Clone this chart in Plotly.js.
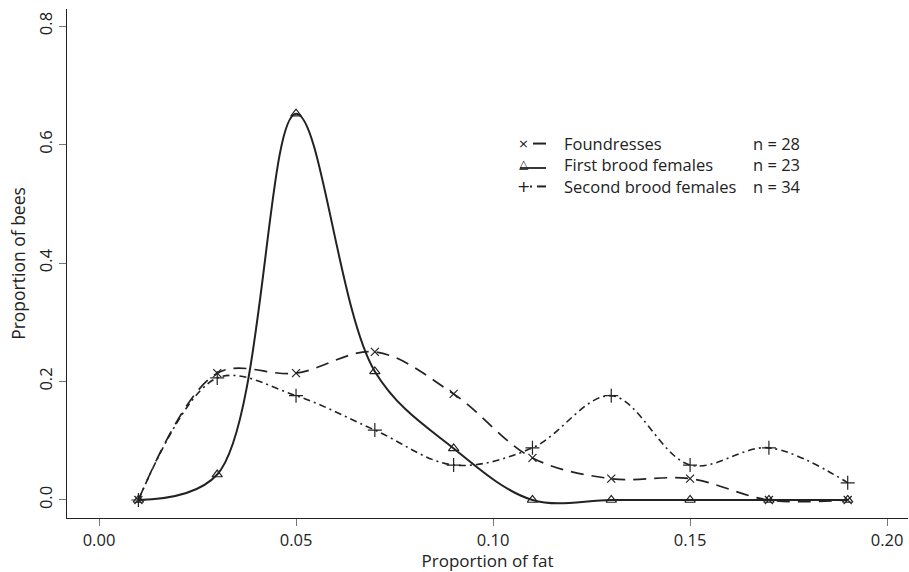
<!DOCTYPE html>
<html><head><meta charset="utf-8">
<script src="https://cdn.plot.ly/plotly-3.0.1.min.js"></script>
<style>body{margin:0;background:#fff}#c{width:909px;height:572px}</style>
</head><body><div id="c"></div>
<script>
const fat = [0.01, 0.03, 0.05, 0.07, 0.09, 0.11, 0.13, 0.15, 0.17, 0.19];
const foundresses = [0, 0.214, 0.214, 0.25, 0.179, 0.071, 0.036, 0.036, 0, 0];
const firstBrood = [0, 0.043, 0.652, 0.217, 0.087, 0, 0, 0, 0, 0];
const secondBrood = [0, 0.206, 0.176, 0.118, 0.059, 0.088, 0.176, 0.059, 0.088, 0.029];
const names = ["Foundresses", "First brood females", "Second brood females"];
const counts = ["n = 28", "n = 23", "n = 34"];
const xTicks = [0, 0.05, 0.10, 0.15, 0.20];
const xTickText = ["0.00", "0.05", "0.10", "0.15", "0.20"];
const yTicks = [0, 0.2, 0.4, 0.6, 0.8];
const yTickText = ["0.0", "0.2", "0.4", "0.6", "0.8"];

const ink = "#222";
const F = "Open Sans, sans-serif";
const W = 909, H = 572, ML = 67, MR = 1, MT = 9, MB = 54;
const PW = W - ML - MR, PH = H - MT - MB;
const px = v => (v - ML) / PW;           // pixel x -> paper x (legend decoration)
const py = v => (H - MB - v) / PH;       // pixel y -> paper y

const styles = [
  {dash: "13px,8px", width: 1.7, sym: "x-thin-open", size: 8, glyph: "×", gsize: 13},
  {dash: "solid", width: 2, sym: "triangle-up-open", size: 9, glyph: "△", gsize: 12},
  {dash: "7px,4px,2px,4px", width: 1.6, sym: "cross-thin-open", size: 10, glyph: "+", gsize: 16}
];
const series = [foundresses, firstBrood, secondBrood];

const traces = series.map((ys, i) => ({
  x: fat, y: ys, name: names[i], mode: "lines+markers", showlegend: false,
  line: {shape: "spline", smoothing: 1, color: ink, width: styles[i].width, dash: styles[i].dash},
  marker: {symbol: styles[i].sym, size: styles[i].size, color: ink, line: {color: ink, width: 1.2}}
}));

// custom legend: one multi-line text block per column
const LF = 16.5, LS = LF * 1.3, midY = 165;
const rowY = [midY - LS, midY, midY + LS];
const annotations = [
  {xref: "paper", yref: "paper", x: px(562), y: py(midY), xanchor: "left", yanchor: "middle", align: "left",
   text: names.join("<br>"), showarrow: false, font: {family: F, size: LF, color: ink}},
  {xref: "paper", yref: "paper", x: px(803), y: py(midY), xanchor: "right", yanchor: "middle", align: "left",
   text: counts.join("<br>"), showarrow: false, font: {family: F, size: LF, color: ink}}
];
const shapes = [];
names.forEach((n, i) => {
  annotations.push({xref: "paper", yref: "paper", x: px(523.5), y: py(rowY[i] + (i === 1 ? -1 : 0)), xanchor: "center", yanchor: "middle",
    text: styles[i].glyph, showarrow: false, font: {family: "DejaVu Sans, sans-serif", size: styles[i].gsize, color: ink}});
});
shapes.push({type: "line", xref: "paper", yref: "paper", x0: px(533), x1: px(546), y0: py(rowY[0]), y1: py(rowY[0]),
  line: {color: ink, width: 2}});
shapes.push({type: "line", xref: "paper", yref: "paper", x0: px(520), x1: px(546), y0: py(rowY[1] + 3), y1: py(rowY[1] + 3),
  line: {color: ink, width: 1.8}});
shapes.push({type: "line", xref: "paper", yref: "paper", x0: px(530), x1: px(532), y0: py(rowY[2]), y1: py(rowY[2]),
  line: {color: ink, width: 2}});
shapes.push({type: "line", xref: "paper", yref: "paper", x0: px(537), x1: px(546), y0: py(rowY[2]), y1: py(rowY[2]),
  line: {color: ink, width: 2}});

const layout = {
  width: W, height: H,
  margin: {l: ML, r: MR, t: MT, b: MB},
  paper_bgcolor: "#fff", plot_bgcolor: "#fff",
  font: {family: F, size: 17, color: ink},
  showlegend: false,
  xaxis: {range: [-0.00812, 0.2053], tickvals: xTicks, ticktext: xTickText,
          showgrid: false, zeroline: false, showline: true, linecolor: ink, linewidth: 1.2,
          ticks: "outside", ticklen: 7, tickcolor: "#777", tickfont: {family: F, size: 16.5, color: ink},
          title: {text: "Proportion of fat", font: {family: F, size: 17, color: ink}, standoff: 4}},
  yaxis: {range: [-0.0304, 0.8287], tickvals: yTicks, ticktext: yTickText, tickangle: -90,
          showgrid: false, zeroline: false, showline: true, linecolor: ink, linewidth: 1.2,
          ticks: "outside", ticklen: 7, tickcolor: "#777", tickfont: {family: F, size: 16.5, color: ink},
          title: {text: "Proportion of bees", font: {family: F, size: 17.5, color: ink}, standoff: 4}},
  annotations: annotations,
  shapes: shapes
};
Plotly.newPlot("c", traces, layout, {displayModeBar: false, staticPlot: true});
</script></body></html>
